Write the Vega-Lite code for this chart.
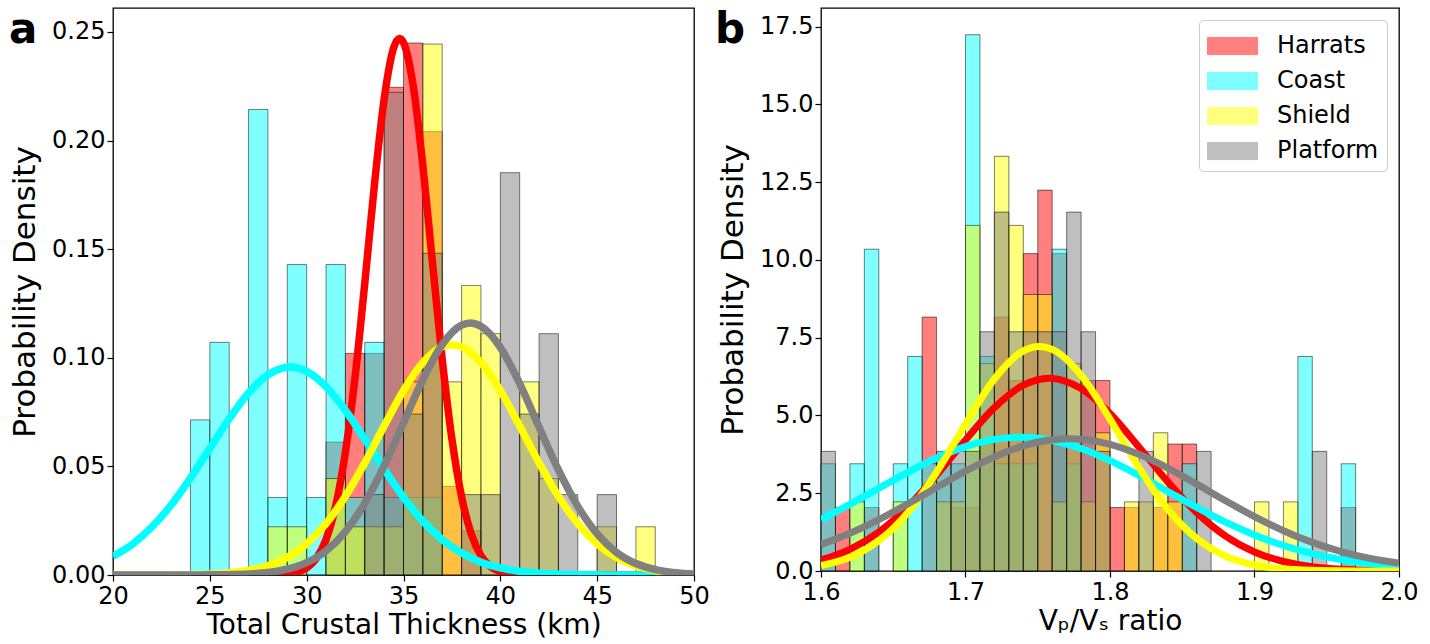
{
  "$schema": "https://vega.github.io/schema/vega-lite/v6.json",
  "background": "white",
  "padding": {"left": 8, "right": 5, "top": 7, "bottom": 0},
  "bounds": "flush",
  "spacing": 127,
  "config": {
    "font": "DejaVu Sans",
    "view": {"stroke": "black", "strokeWidth": 1.3},
    "axis": {"grid": false, "domain": false, "tickColor": "black", "tickSize": 6, "tickWidth": 1.2, "labelColor": "black", "labelFontSize": 24, "labelFont": "DejaVu Sans", "titleFont": "DejaVu Sans", "titleFontWeight": "normal", "titleColor": "black", "labelFlush": false},
    "axisX": {"labelPadding": 3, "titlePadding": 3, "titleFontSize": 28},
    "axisY": {"labelPadding": 2, "titlePadding": 10, "titleFontSize": 31}
  },
  "datasets": {
    "ha": [
      {"group": "Harrats", "lo": 31, "hi": 32, "density": 0.0612},
      {"group": "Harrats", "lo": 32, "hi": 33, "density": 0.1020},
      {"group": "Harrats", "lo": 33, "hi": 34, "density": 0.1020},
      {"group": "Harrats", "lo": 34, "hi": 35, "density": 0.2245},
      {"group": "Harrats", "lo": 35, "hi": 36, "density": 0.2449},
      {"group": "Harrats", "lo": 36, "hi": 37, "density": 0.2041},
      {"group": "Harrats", "lo": 37, "hi": 38, "density": 0.0408},
      {"group": "Harrats", "lo": 38, "hi": 39, "density": 0.0204},
      {"group": "Coast", "lo": 24, "hi": 25, "density": 0.0714},
      {"group": "Coast", "lo": 25, "hi": 26, "density": 0.1071},
      {"group": "Coast", "lo": 27, "hi": 28, "density": 0.2143},
      {"group": "Coast", "lo": 28, "hi": 29, "density": 0.0357},
      {"group": "Coast", "lo": 29, "hi": 30, "density": 0.1429},
      {"group": "Coast", "lo": 30, "hi": 31, "density": 0.0357},
      {"group": "Coast", "lo": 31, "hi": 32, "density": 0.1429},
      {"group": "Coast", "lo": 32, "hi": 33, "density": 0.0357},
      {"group": "Coast", "lo": 33, "hi": 34, "density": 0.1071},
      {"group": "Coast", "lo": 34, "hi": 35, "density": 0.0357},
      {"group": "Coast", "lo": 35, "hi": 36, "density": 0.0357},
      {"group": "Coast", "lo": 36, "hi": 37, "density": 0.0357},
      {"group": "Shield", "lo": 28, "hi": 29, "density": 0.0222},
      {"group": "Shield", "lo": 29, "hi": 30, "density": 0.0222},
      {"group": "Shield", "lo": 31, "hi": 32, "density": 0.0444},
      {"group": "Shield", "lo": 32, "hi": 33, "density": 0.0222},
      {"group": "Shield", "lo": 33, "hi": 34, "density": 0.0222},
      {"group": "Shield", "lo": 34, "hi": 35, "density": 0.0222},
      {"group": "Shield", "lo": 35, "hi": 36, "density": 0.0889},
      {"group": "Shield", "lo": 36, "hi": 37, "density": 0.2444},
      {"group": "Shield", "lo": 37, "hi": 38, "density": 0.0889},
      {"group": "Shield", "lo": 38, "hi": 39, "density": 0.1333},
      {"group": "Shield", "lo": 39, "hi": 40, "density": 0.1111},
      {"group": "Shield", "lo": 41, "hi": 42, "density": 0.0889},
      {"group": "Shield", "lo": 42, "hi": 43, "density": 0.0444},
      {"group": "Shield", "lo": 45, "hi": 46, "density": 0.0222},
      {"group": "Shield", "lo": 47, "hi": 48, "density": 0.0222},
      {"group": "Platform", "lo": 33, "hi": 34, "density": 0.0370},
      {"group": "Platform", "lo": 34, "hi": 35, "density": 0.2222},
      {"group": "Platform", "lo": 35, "hi": 36, "density": 0.0741},
      {"group": "Platform", "lo": 36, "hi": 37, "density": 0.1481},
      {"group": "Platform", "lo": 38, "hi": 39, "density": 0.0370},
      {"group": "Platform", "lo": 39, "hi": 40, "density": 0.0370},
      {"group": "Platform", "lo": 40, "hi": 41, "density": 0.1852},
      {"group": "Platform", "lo": 41, "hi": 42, "density": 0.0741},
      {"group": "Platform", "lo": 42, "hi": 43, "density": 0.1111},
      {"group": "Platform", "lo": 43, "hi": 44, "density": 0.0370},
      {"group": "Platform", "lo": 45, "hi": 46, "density": 0.0370}
    ],
    "hb": [
      {"group": "Harrats", "lo": 1.61, "hi": 1.62, "density": 2.041},
      {"group": "Harrats", "lo": 1.63, "hi": 1.64, "density": 2.041},
      {"group": "Harrats", "lo": 1.67, "hi": 1.68, "density": 8.163},
      {"group": "Harrats", "lo": 1.69, "hi": 1.70, "density": 2.041},
      {"group": "Harrats", "lo": 1.70, "hi": 1.71, "density": 2.041},
      {"group": "Harrats", "lo": 1.71, "hi": 1.72, "density": 4.082},
      {"group": "Harrats", "lo": 1.72, "hi": 1.73, "density": 8.163},
      {"group": "Harrats", "lo": 1.73, "hi": 1.74, "density": 6.122},
      {"group": "Harrats", "lo": 1.74, "hi": 1.75, "density": 10.204},
      {"group": "Harrats", "lo": 1.75, "hi": 1.76, "density": 12.245},
      {"group": "Harrats", "lo": 1.76, "hi": 1.77, "density": 10.204},
      {"group": "Harrats", "lo": 1.77, "hi": 1.78, "density": 4.082},
      {"group": "Harrats", "lo": 1.78, "hi": 1.79, "density": 6.122},
      {"group": "Harrats", "lo": 1.79, "hi": 1.80, "density": 6.122},
      {"group": "Harrats", "lo": 1.80, "hi": 1.81, "density": 2.041},
      {"group": "Harrats", "lo": 1.81, "hi": 1.82, "density": 2.041},
      {"group": "Harrats", "lo": 1.83, "hi": 1.84, "density": 2.041},
      {"group": "Harrats", "lo": 1.84, "hi": 1.85, "density": 4.082},
      {"group": "Harrats", "lo": 1.85, "hi": 1.86, "density": 4.082},
      {"group": "Harrats", "lo": 1.96, "hi": 1.97, "density": 2.041},
      {"group": "Coast", "lo": 1.60, "hi": 1.61, "density": 3.448},
      {"group": "Coast", "lo": 1.62, "hi": 1.63, "density": 3.448},
      {"group": "Coast", "lo": 1.63, "hi": 1.64, "density": 10.345},
      {"group": "Coast", "lo": 1.65, "hi": 1.66, "density": 3.448},
      {"group": "Coast", "lo": 1.66, "hi": 1.67, "density": 6.897},
      {"group": "Coast", "lo": 1.67, "hi": 1.68, "density": 3.448},
      {"group": "Coast", "lo": 1.68, "hi": 1.69, "density": 3.448},
      {"group": "Coast", "lo": 1.69, "hi": 1.70, "density": 3.448},
      {"group": "Coast", "lo": 1.70, "hi": 1.71, "density": 17.241},
      {"group": "Coast", "lo": 1.71, "hi": 1.72, "density": 6.897},
      {"group": "Coast", "lo": 1.72, "hi": 1.73, "density": 3.448},
      {"group": "Coast", "lo": 1.73, "hi": 1.74, "density": 3.448},
      {"group": "Coast", "lo": 1.74, "hi": 1.75, "density": 3.448},
      {"group": "Coast", "lo": 1.76, "hi": 1.77, "density": 10.345},
      {"group": "Coast", "lo": 1.77, "hi": 1.78, "density": 3.448},
      {"group": "Coast", "lo": 1.85, "hi": 1.86, "density": 3.448},
      {"group": "Coast", "lo": 1.93, "hi": 1.94, "density": 6.897},
      {"group": "Coast", "lo": 1.96, "hi": 1.97, "density": 3.448},
      {"group": "Shield", "lo": 1.62, "hi": 1.63, "density": 2.222},
      {"group": "Shield", "lo": 1.65, "hi": 1.66, "density": 2.222},
      {"group": "Shield", "lo": 1.68, "hi": 1.69, "density": 2.222},
      {"group": "Shield", "lo": 1.69, "hi": 1.70, "density": 2.222},
      {"group": "Shield", "lo": 1.70, "hi": 1.71, "density": 11.111},
      {"group": "Shield", "lo": 1.71, "hi": 1.72, "density": 6.667},
      {"group": "Shield", "lo": 1.72, "hi": 1.73, "density": 13.333},
      {"group": "Shield", "lo": 1.73, "hi": 1.74, "density": 11.111},
      {"group": "Shield", "lo": 1.74, "hi": 1.75, "density": 8.889},
      {"group": "Shield", "lo": 1.75, "hi": 1.76, "density": 8.889},
      {"group": "Shield", "lo": 1.76, "hi": 1.77, "density": 2.222},
      {"group": "Shield", "lo": 1.77, "hi": 1.78, "density": 6.667},
      {"group": "Shield", "lo": 1.78, "hi": 1.79, "density": 2.222},
      {"group": "Shield", "lo": 1.79, "hi": 1.80, "density": 4.444},
      {"group": "Shield", "lo": 1.81, "hi": 1.82, "density": 2.222},
      {"group": "Shield", "lo": 1.82, "hi": 1.83, "density": 2.222},
      {"group": "Shield", "lo": 1.83, "hi": 1.84, "density": 4.444},
      {"group": "Shield", "lo": 1.84, "hi": 1.85, "density": 2.222},
      {"group": "Shield", "lo": 1.90, "hi": 1.91, "density": 2.222},
      {"group": "Shield", "lo": 1.92, "hi": 1.93, "density": 2.222},
      {"group": "Platform", "lo": 1.60, "hi": 1.61, "density": 3.846},
      {"group": "Platform", "lo": 1.68, "hi": 1.69, "density": 3.846},
      {"group": "Platform", "lo": 1.69, "hi": 1.70, "density": 3.846},
      {"group": "Platform", "lo": 1.70, "hi": 1.71, "density": 3.846},
      {"group": "Platform", "lo": 1.71, "hi": 1.72, "density": 7.692},
      {"group": "Platform", "lo": 1.72, "hi": 1.73, "density": 11.538},
      {"group": "Platform", "lo": 1.73, "hi": 1.74, "density": 7.692},
      {"group": "Platform", "lo": 1.74, "hi": 1.75, "density": 7.692},
      {"group": "Platform", "lo": 1.75, "hi": 1.76, "density": 7.692},
      {"group": "Platform", "lo": 1.76, "hi": 1.77, "density": 7.692},
      {"group": "Platform", "lo": 1.77, "hi": 1.78, "density": 11.538},
      {"group": "Platform", "lo": 1.78, "hi": 1.79, "density": 7.692},
      {"group": "Platform", "lo": 1.79, "hi": 1.80, "density": 3.846},
      {"group": "Platform", "lo": 1.82, "hi": 1.83, "density": 3.846},
      {"group": "Platform", "lo": 1.86, "hi": 1.87, "density": 3.846},
      {"group": "Platform", "lo": 1.94, "hi": 1.95, "density": 3.846}
    ],
    "ca": [
      {"group": "Harrats", "x": 20, "density": 0},
      {"group": "Harrats", "x": 27.5, "density": 0.00001},
      {"group": "Harrats", "x": 28, "density": 0.00004},
      {"group": "Harrats", "x": 28.5, "density": 0.00014},
      {"group": "Harrats", "x": 29, "density": 0.00044},
      {"group": "Harrats", "x": 29.5, "density": 0.00125},
      {"group": "Harrats", "x": 30, "density": 0.00323},
      {"group": "Harrats", "x": 30.5, "density": 0.00761},
      {"group": "Harrats", "x": 31, "density": 0.0163},
      {"group": "Harrats", "x": 31.5, "density": 0.0318},
      {"group": "Harrats", "x": 32, "density": 0.0565},
      {"group": "Harrats", "x": 32.5, "density": 0.0912},
      {"group": "Harrats", "x": 33, "density": 0.1342},
      {"group": "Harrats", "x": 33.5, "density": 0.1797},
      {"group": "Harrats", "x": 34, "density": 0.2190},
      {"group": "Harrats", "x": 34.5, "density": 0.2429},
      {"group": "Harrats", "x": 34.8, "density": 0.247},
      {"group": "Harrats", "x": 35, "density": 0.2451},
      {"group": "Harrats", "x": 35.5, "density": 0.2252},
      {"group": "Harrats", "x": 36, "density": 0.1884},
      {"group": "Harrats", "x": 36.5, "density": 0.1434},
      {"group": "Harrats", "x": 37, "density": 0.0993},
      {"group": "Harrats", "x": 37.5, "density": 0.0626},
      {"group": "Harrats", "x": 38, "density": 0.0360},
      {"group": "Harrats", "x": 38.5, "density": 0.0188},
      {"group": "Harrats", "x": 39, "density": 0.00894},
      {"group": "Harrats", "x": 39.5, "density": 0.00387},
      {"group": "Harrats", "x": 40, "density": 0.00152},
      {"group": "Harrats", "x": 40.5, "density": 0.00055},
      {"group": "Harrats", "x": 41, "density": 0.00018},
      {"group": "Harrats", "x": 41.5, "density": 0.00005},
      {"group": "Harrats", "x": 42, "density": 0.00001},
      {"group": "Harrats", "x": 50, "density": 0},
      {"group": "Coast", "x": 20, "density": 0.00862},
      {"group": "Coast", "x": 21, "density": 0.01417},
      {"group": "Coast", "x": 22, "density": 0.0220},
      {"group": "Coast", "x": 23, "density": 0.0322},
      {"group": "Coast", "x": 24, "density": 0.0446},
      {"group": "Coast", "x": 25, "density": 0.0583},
      {"group": "Coast", "x": 26, "density": 0.0719},
      {"group": "Coast", "x": 27, "density": 0.0838},
      {"group": "Coast", "x": 28, "density": 0.0921},
      {"group": "Coast", "x": 29, "density": 0.0956},
      {"group": "Coast", "x": 29.15, "density": 0.0957},
      {"group": "Coast", "x": 30, "density": 0.0937},
      {"group": "Coast", "x": 31, "density": 0.0867},
      {"group": "Coast", "x": 32, "density": 0.0758},
      {"group": "Coast", "x": 33, "density": 0.0625},
      {"group": "Coast", "x": 34, "density": 0.0487},
      {"group": "Coast", "x": 35, "density": 0.0358},
      {"group": "Coast", "x": 36, "density": 0.0248},
      {"group": "Coast", "x": 37, "density": 0.0163},
      {"group": "Coast", "x": 38, "density": 0.01008},
      {"group": "Coast", "x": 39, "density": 0.00589},
      {"group": "Coast", "x": 40, "density": 0.00324},
      {"group": "Coast", "x": 41, "density": 0.00169},
      {"group": "Coast", "x": 42, "density": 0.00083},
      {"group": "Coast", "x": 43, "density": 0.00038},
      {"group": "Coast", "x": 44, "density": 0.00017},
      {"group": "Coast", "x": 45, "density": 0.00007},
      {"group": "Coast", "x": 46, "density": 0.00003},
      {"group": "Coast", "x": 48, "density": 0},
      {"group": "Coast", "x": 50, "density": 0},
      {"group": "Shield", "x": 20, "density": 0},
      {"group": "Shield", "x": 22, "density": 0.00001},
      {"group": "Shield", "x": 23, "density": 0.00006},
      {"group": "Shield", "x": 24, "density": 0.00016},
      {"group": "Shield", "x": 25, "density": 0.00041},
      {"group": "Shield", "x": 26, "density": 0.00096},
      {"group": "Shield", "x": 27, "density": 0.0021},
      {"group": "Shield", "x": 28, "density": 0.00428},
      {"group": "Shield", "x": 29, "density": 0.00812},
      {"group": "Shield", "x": 30, "density": 0.01434},
      {"group": "Shield", "x": 31, "density": 0.0236},
      {"group": "Shield", "x": 32, "density": 0.0362},
      {"group": "Shield", "x": 33, "density": 0.0516},
      {"group": "Shield", "x": 34, "density": 0.0686},
      {"group": "Shield", "x": 35, "density": 0.0849},
      {"group": "Shield", "x": 36, "density": 0.0978},
      {"group": "Shield", "x": 37, "density": 0.1051},
      {"group": "Shield", "x": 37.5, "density": 0.106},
      {"group": "Shield", "x": 38, "density": 0.1051},
      {"group": "Shield", "x": 39, "density": 0.0978},
      {"group": "Shield", "x": 40, "density": 0.0849},
      {"group": "Shield", "x": 41, "density": 0.0686},
      {"group": "Shield", "x": 42, "density": 0.0516},
      {"group": "Shield", "x": 43, "density": 0.0362},
      {"group": "Shield", "x": 44, "density": 0.0236},
      {"group": "Shield", "x": 45, "density": 0.01434},
      {"group": "Shield", "x": 46, "density": 0.00812},
      {"group": "Shield", "x": 47, "density": 0.00428},
      {"group": "Shield", "x": 48, "density": 0.0021},
      {"group": "Shield", "x": 49, "density": 0.00096},
      {"group": "Shield", "x": 50, "density": 0.00041},
      {"group": "Platform", "x": 20, "density": 0},
      {"group": "Platform", "x": 24, "density": 0.00001},
      {"group": "Platform", "x": 25, "density": 0.00006},
      {"group": "Platform", "x": 26, "density": 0.00017},
      {"group": "Platform", "x": 27, "density": 0.00046},
      {"group": "Platform", "x": 28, "density": 0.00115},
      {"group": "Platform", "x": 29, "density": 0.00267},
      {"group": "Platform", "x": 30, "density": 0.00568},
      {"group": "Platform", "x": 31, "density": 0.01111},
      {"group": "Platform", "x": 32, "density": 0.0200},
      {"group": "Platform", "x": 33, "density": 0.0331},
      {"group": "Platform", "x": 34, "density": 0.0502},
      {"group": "Platform", "x": 35, "density": 0.0701},
      {"group": "Platform", "x": 36, "density": 0.0900},
      {"group": "Platform", "x": 37, "density": 0.1061},
      {"group": "Platform", "x": 38, "density": 0.1150},
      {"group": "Platform", "x": 38.45, "density": 0.116},
      {"group": "Platform", "x": 39, "density": 0.1145},
      {"group": "Platform", "x": 40, "density": 0.1048},
      {"group": "Platform", "x": 41, "density": 0.0881},
      {"group": "Platform", "x": 42, "density": 0.0681},
      {"group": "Platform", "x": 43, "density": 0.0484},
      {"group": "Platform", "x": 44, "density": 0.0316},
      {"group": "Platform", "x": 45, "density": 0.0189},
      {"group": "Platform", "x": 46, "density": 0.0104},
      {"group": "Platform", "x": 47, "density": 0.00529},
      {"group": "Platform", "x": 48, "density": 0.00246},
      {"group": "Platform", "x": 49, "density": 0.00105},
      {"group": "Platform", "x": 50, "density": 0.00041}
    ],
    "cb": [
      {"group": "Harrats", "x": 1.60, "density": 0.353},
      {"group": "Harrats", "x": 1.62, "density": 0.697},
      {"group": "Harrats", "x": 1.64, "density": 1.254},
      {"group": "Harrats", "x": 1.66, "density": 2.060},
      {"group": "Harrats", "x": 1.68, "density": 3.084},
      {"group": "Harrats", "x": 1.70, "density": 4.214},
      {"group": "Harrats", "x": 1.72, "density": 5.253},
      {"group": "Harrats", "x": 1.74, "density": 5.974},
      {"group": "Harrats", "x": 1.758, "density": 6.2},
      {"group": "Harrats", "x": 1.78, "density": 5.865},
      {"group": "Harrats", "x": 1.80, "density": 5.064},
      {"group": "Harrats", "x": 1.82, "density": 3.988},
      {"group": "Harrats", "x": 1.84, "density": 2.866},
      {"group": "Harrats", "x": 1.86, "density": 1.878},
      {"group": "Harrats", "x": 1.88, "density": 1.123},
      {"group": "Harrats", "x": 1.90, "density": 0.613},
      {"group": "Harrats", "x": 1.92, "density": 0.305},
      {"group": "Harrats", "x": 1.94, "density": 0.138},
      {"group": "Harrats", "x": 1.96, "density": 0.057},
      {"group": "Harrats", "x": 1.98, "density": 0.022},
      {"group": "Harrats", "x": 2.00, "density": 0.007},
      {"group": "Coast", "x": 1.60, "density": 1.659},
      {"group": "Coast", "x": 1.62, "density": 2.144},
      {"group": "Coast", "x": 1.64, "density": 2.660},
      {"group": "Coast", "x": 1.66, "density": 3.172},
      {"group": "Coast", "x": 1.68, "density": 3.634},
      {"group": "Coast", "x": 1.70, "density": 4.000},
      {"group": "Coast", "x": 1.72, "density": 4.231},
      {"group": "Coast", "x": 1.738, "density": 4.3},
      {"group": "Coast", "x": 1.76, "density": 4.197},
      {"group": "Coast", "x": 1.78, "density": 3.937},
      {"group": "Coast", "x": 1.80, "density": 3.548},
      {"group": "Coast", "x": 1.82, "density": 3.072},
      {"group": "Coast", "x": 1.84, "density": 2.556},
      {"group": "Coast", "x": 1.86, "density": 2.043},
      {"group": "Coast", "x": 1.88, "density": 1.569},
      {"group": "Coast", "x": 1.90, "density": 1.158},
      {"group": "Coast", "x": 1.92, "density": 0.821},
      {"group": "Coast", "x": 1.94, "density": 0.559},
      {"group": "Coast", "x": 1.96, "density": 0.366},
      {"group": "Coast", "x": 1.98, "density": 0.230},
      {"group": "Coast", "x": 2.00, "density": 0.139},
      {"group": "Shield", "x": 1.60, "density": 0.176},
      {"group": "Shield", "x": 1.62, "density": 0.441},
      {"group": "Shield", "x": 1.64, "density": 0.970},
      {"group": "Shield", "x": 1.66, "density": 1.874},
      {"group": "Shield", "x": 1.68, "density": 3.175},
      {"group": "Shield", "x": 1.70, "density": 4.726},
      {"group": "Shield", "x": 1.72, "density": 6.174},
      {"group": "Shield", "x": 1.74, "density": 7.079},
      {"group": "Shield", "x": 1.751, "density": 7.22},
      {"group": "Shield", "x": 1.76, "density": 7.126},
      {"group": "Shield", "x": 1.78, "density": 6.296},
      {"group": "Shield", "x": 1.80, "density": 4.883},
      {"group": "Shield", "x": 1.82, "density": 3.324},
      {"group": "Shield", "x": 1.84, "density": 1.987},
      {"group": "Shield", "x": 1.86, "density": 1.043},
      {"group": "Shield", "x": 1.88, "density": 0.480},
      {"group": "Shield", "x": 1.90, "density": 0.194},
      {"group": "Shield", "x": 1.92, "density": 0.069},
      {"group": "Shield", "x": 1.94, "density": 0.021},
      {"group": "Shield", "x": 1.96, "density": 0.006},
      {"group": "Shield", "x": 1.98, "density": 0.002},
      {"group": "Shield", "x": 2.00, "density": 0.0005},
      {"group": "Platform", "x": 1.60, "density": 0.854},
      {"group": "Platform", "x": 1.62, "density": 1.213},
      {"group": "Platform", "x": 1.64, "density": 1.652},
      {"group": "Platform", "x": 1.66, "density": 2.152},
      {"group": "Platform", "x": 1.68, "density": 2.685},
      {"group": "Platform", "x": 1.70, "density": 3.208},
      {"group": "Platform", "x": 1.72, "density": 3.670},
      {"group": "Platform", "x": 1.74, "density": 4.020},
      {"group": "Platform", "x": 1.76, "density": 4.217},
      {"group": "Platform", "x": 1.772, "density": 4.25},
      {"group": "Platform", "x": 1.78, "density": 4.235},
      {"group": "Platform", "x": 1.80, "density": 4.073},
      {"group": "Platform", "x": 1.82, "density": 3.751},
      {"group": "Platform", "x": 1.84, "density": 3.307},
      {"group": "Platform", "x": 1.86, "density": 2.792},
      {"group": "Platform", "x": 1.88, "density": 2.257},
      {"group": "Platform", "x": 1.90, "density": 1.747},
      {"group": "Platform", "x": 1.92, "density": 1.295},
      {"group": "Platform", "x": 1.94, "density": 0.919},
      {"group": "Platform", "x": 1.96, "density": 0.625},
      {"group": "Platform", "x": 1.98, "density": 0.406},
      {"group": "Platform", "x": 2.00, "density": 0.253}
    ]
  },
  "resolve": {"scale": {"x": "independent", "y": "independent", "fill": "independent", "stroke": "independent"}, "legend": {"fill": "independent", "stroke": "independent"}},
  "hconcat": [
    {
      "width": 581,
      "height": 567,
      "layer": [
        {
          "data": {"name": "ha"},
          "mark": {"type": "rect", "fillOpacity": 0.5, "stroke": "black", "strokeOpacity": 0.5, "strokeWidth": 1},
          "encoding": {
            "x": {"field": "lo", "type": "quantitative", "scale": {"domain": [20, 50], "nice": false, "zero": false}, "axis": {"values": [20, 25, 30, 35, 40, 45, 50], "format": "d", "title": "Total Crustal Thickness (km)"}},
            "x2": {"field": "hi"},
            "y": {"field": "density", "type": "quantitative", "scale": {"domain": [0, 0.261], "nice": false}, "axis": {"values": [0, 0.05, 0.1, 0.15, 0.2, 0.25], "format": ".2f", "title": "Probability Density"}},
            "y2": {"datum": 0},
            "fill": {"field": "group", "type": "nominal", "scale": {"domain": ["Harrats", "Coast", "Shield", "Platform"], "range": ["#ff0000", "#00ffff", "#ffff00", "#808080"]}, "legend": null}
          }
        },
        {
          "data": {"name": "ca"},
          "mark": {"type": "line", "strokeWidth": 7.5, "interpolate": "monotone", "clip": true},
          "encoding": {
            "x": {"field": "x", "type": "quantitative"},
            "y": {"field": "density", "type": "quantitative"},
            "stroke": {"field": "group", "type": "nominal", "sort": null, "scale": {"domain": ["Harrats", "Coast", "Shield", "Platform"], "range": ["#ff0000", "#00ffff", "#ffff00", "#808080"]}, "legend": null}
          }
        },
        {
          "data": {"values": [{"panel": "a"}]},
          "mark": {"type": "text", "align": "left", "baseline": "alphabetic", "fontSize": 42, "fontWeight": "bold", "font": "DejaVu Sans", "color": "black"},
          "encoding": {
            "x": {"datum": 14.63},
            "y": {"datum": 0.2449},
            "text": {"field": "panel"}
          }
        }
      ]
    },
    {
      "width": 578,
      "height": 563,
      "layer": [
        {
          "data": {"name": "hb"},
          "mark": {"type": "rect", "fillOpacity": 0.5, "stroke": "black", "strokeOpacity": 0.5, "strokeWidth": 1},
          "encoding": {
            "x": {"field": "lo", "type": "quantitative", "scale": {"domain": [1.6, 2.0], "nice": false, "zero": false}, "axis": {"values": [1.6, 1.7, 1.8, 1.9, 2.0], "format": ".1f", "title": "Vₚ/Vₛ ratio"}},
            "x2": {"field": "hi"},
            "y": {"field": "density", "type": "quantitative", "scale": {"domain": [0, 18.1], "nice": false}, "axis": {"values": [0, 2.5, 5, 7.5, 10, 12.5, 15, 17.5], "format": ".1f", "title": "Probability Density"}},
            "y2": {"datum": 0},
            "fill": {"field": "group", "type": "nominal", "scale": {"domain": ["Harrats", "Coast", "Shield", "Platform"], "range": ["#ff0000", "#00ffff", "#ffff00", "#808080"]},
              "legend": {"orient": "top-right", "offset": 12, "title": null, "symbolType": "M-1,-0.49H1.86V0.49H-1Z", "symbolSize": 1225, "symbolStrokeColor": "black", "symbolStrokeWidth": 1, "symbolOpacity": 0.5, "labelFontSize": 24, "labelFont": "DejaVu Sans", "labelColor": "black", "labelOffset": 34, "rowPadding": 5, "padding": 8, "strokeColor": "#cccccc", "fillColor": "rgba(255,255,255,0.8)", "cornerRadius": 4}}
          }
        },
        {
          "data": {"name": "cb"},
          "mark": {"type": "line", "strokeWidth": 7, "interpolate": "monotone", "clip": true},
          "encoding": {
            "x": {"field": "x", "type": "quantitative"},
            "y": {"field": "density", "type": "quantitative"},
            "stroke": {"field": "group", "type": "nominal", "sort": null, "scale": {"domain": ["Harrats", "Coast", "Shield", "Platform"], "range": ["#ff0000", "#00ffff", "#ffff00", "#808080"]}, "legend": null}
          }
        },
        {
          "data": {"values": [{"panel": "b"}]},
          "mark": {"type": "text", "align": "left", "baseline": "alphabetic", "fontSize": 42, "fontWeight": "bold", "font": "DejaVu Sans", "color": "black"},
          "encoding": {
            "x": {"datum": 1.5267},
            "y": {"datum": 16.974},
            "text": {"field": "panel"}
          }
        }
      ]
    }
  ]
}
